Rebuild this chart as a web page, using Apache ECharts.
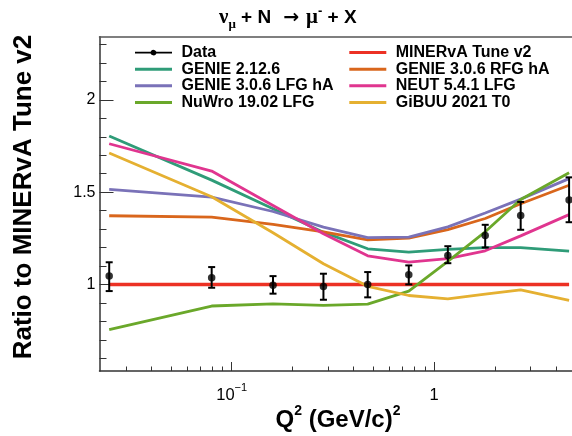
<!DOCTYPE html>
<html><head><meta charset="utf-8">
<script src="https://cdn.jsdelivr.net/npm/echarts@6/dist/echarts.min.js"></script>
<style>html,body{margin:0;padding:0;background:#fff}#c{width:572px;height:436px}</style>
</head><body><div id="c"></div>
<script>
// ---- data ----
const q2 = [0.0248, 0.0796, 0.160, 0.284, 0.47, 0.75, 1.17, 1.79, 2.68, 4.65];
const dataRatio = [1.045, 1.036, 0.995, 0.989, 1.0, 1.052, 1.157, 1.265, 1.373, 1.458];
const dataLow  = [0.964, 0.982, 0.95, 0.917, 0.93, 1.0, 1.115, 1.20, 1.296, 1.337];
const dataHigh = [1.12, 1.094, 1.045, 1.058, 1.067, 1.103, 1.207, 1.323, 1.447, 1.58];
const minervaTune = [1, 1, 1, 1, 1, 1, 1, 1, 1, 1];
const genie2126   = [1.804, 1.565, 1.41, 1.283, 1.193, 1.175, 1.19, 1.199, 1.199, 1.18];
const genie306RFG = [1.372, 1.365, 1.325, 1.285, 1.242, 1.251, 1.297, 1.357, 1.437, 1.537];
const genie306LFG = [1.515, 1.473, 1.395, 1.31, 1.253, 1.256, 1.312, 1.387, 1.462, 1.573];
const neut541     = [1.762, 1.614, 1.428, 1.275, 1.155, 1.121, 1.14, 1.182, 1.263, 1.378];
const nuwro1902   = [0.755, 0.883, 0.895, 0.887, 0.893, 0.964, 1.125, 1.285, 1.46, 1.605];
const gibuu2021   = [1.712, 1.475, 1.28, 1.112, 0.99, 0.94, 0.922, 0.948, 0.971, 0.913];
const yMajorTicks = [1, 1.5, 2];
const yMinorTicks = [0.6, 0.7, 0.8, 0.9, 1.1, 1.2, 1.3, 1.4, 1.6, 1.7, 1.8, 1.9, 2.1, 2.2, 2.3];
const xMajorTicks = [0.1, 1];
const xMinorTicks = [0.03, 0.04, 0.05, 0.06, 0.07, 0.08, 0.09, 0.2, 0.3, 0.4, 0.5, 0.6, 0.7, 0.8, 0.9, 2, 3, 4];
const xMin = 0.02221, xMax = 5.03, yMin = 0.531, yMax = 2.342;

const FONT = 'Liberation Sans';
const models = [
  {name: 'MINERvA Tune v2', values: minervaTune, color: '#ec3124', width: 3.4},
  {name: 'GENIE 2.12.6', values: genie2126, color: '#2f9c78', width: 2.8},
  {name: 'GENIE 3.0.6 RFG hA', values: genie306RFG, color: '#d9661c', width: 2.8},
  {name: 'GENIE 3.0.6 LFG hA', values: genie306LFG, color: '#7a72b8', width: 2.8},
  {name: 'NEUT 5.4.1 LFG', values: neut541, color: '#e0358f', width: 2.8},
  {name: 'NuWro 19.02 LFG', values: nuwro1902, color: '#6aa82a', width: 2.8},
  {name: 'GiBUU 2021 T0', values: gibuu2021, color: '#e5b031', width: 2.8}
];

const chart = echarts.init(document.getElementById('c'), null, {renderer: 'canvas'});
const axisColor = '#333';
const legendText = {fontFamily: FONT, fontWeight: 'bold', fontSize: 16, color: '#000', lineHeight: 16.6};

const series = models.map(m => ({
  type: 'line', name: m.name, xAxisIndex: 0, yAxisIndex: 0,
  data: q2.map((x, i) => [x, m.values[i]]),
  symbol: 'none', showSymbol: false, smooth: false,
  lineStyle: {color: m.color, width: m.width}, itemStyle: {color: m.color},
  emphasis: {disabled: true}, animation: false, z: 2
}));
series.push({
  type: 'custom', name: 'Data', xAxisIndex: 0, yAxisIndex: 0,
  data: q2.map((x, i) => [x, dataLow[i], dataHigh[i]]),
  encode: {x: 0, y: [1, 2]},
  renderItem: function (params, api) {
    const x = api.value(0);
    const p1 = api.coord([x, api.value(1)]);
    const p2 = api.coord([x, api.value(2)]);
    const w = 3.5, st = {stroke: '#000', lineWidth: 2};
    return {type: 'group', children: [
      {type: 'line', shape: {x1: p1[0], y1: p1[1], x2: p2[0], y2: p2[1]}, style: st},
      {type: 'line', shape: {x1: p1[0] - w, y1: p1[1], x2: p1[0] + w, y2: p1[1]}, style: st},
      {type: 'line', shape: {x1: p2[0] - w, y1: p2[1], x2: p2[0] + w, y2: p2[1]}, style: st}
    ]};
  },
  itemStyle: {color: '#000'}, animation: false, z: 5
});
series.push({
  type: 'scatter', name: 'Data', xAxisIndex: 0, yAxisIndex: 0,
  data: q2.map((x, i) => [x, dataRatio[i]]),
  symbol: 'circle', symbolSize: 7.5, itemStyle: {color: '#000'},
  emphasis: {disabled: true}, animation: false, z: 6
});

const dataIcon = 'path://M0,3.2 L15.6,3.2 A3.2,3.2 0 0,1 21.4,3.2 L37,3.2 L37,4.8 L21.4,4.8 A3.2,3.2 0 0,1 15.6,4.8 L0,4.8 Z';

const option = {
  backgroundColor: '#fff',
  animation: false,
  title: {
    text: '{g|ν}{gs|μ}{b| + N}{r|→}{g|μ}{sup|-}{b| + X}',
    left: 219, top: 5, padding: 0,
    textStyle: {
      rich: {
        g: {fontFamily: 'Liberation Serif', fontSize: 21, color: '#000', lineHeight: 26, verticalAlign: 'middle'},
        gs: {fontFamily: 'Liberation Serif', fontSize: 13, color: '#000', lineHeight: 13, verticalAlign: 'bottom'},
        sup: {fontFamily: FONT, fontSize: 13, fontWeight: 'bold', color: '#000', lineHeight: 13, verticalAlign: 'top'},
        b: {fontFamily: FONT, fontSize: 19, fontWeight: 'bold', color: '#000', lineHeight: 26, verticalAlign: 'middle'},
        r: {fontFamily: 'DejaVu Sans', fontSize: 19, color: '#000', lineHeight: 26, verticalAlign: 'middle', padding: [0, 7, 0, 12]}
      }
    }
  },
  legend: [
    {data: [{name: 'Data', icon: dataIcon}], left: 135, top: 44.3, orient: 'vertical', padding: 0,
     itemWidth: 37, itemHeight: 8, itemGap: 0, textStyle: legendText, formatter: n => ' ' + n,
     selectedMode: false, itemStyle: {color: '#000'}},
    {data: ['GENIE 2.12.6', 'GENIE 3.0.6 LFG hA', 'NuWro 19.02 LFG'].map(n => ({name: n, icon: 'rect'})),
     left: 135, top: 60.9, orient: 'vertical', padding: 0,
     itemWidth: 37, itemHeight: 3, itemGap: 0, textStyle: legendText, formatter: n => ' ' + n, selectedMode: false},
    {data: ['MINERvA Tune v2', 'GENIE 3.0.6 RFG hA', 'NEUT 5.4.1 LFG', 'GiBUU 2021 T0'].map(n => ({name: n, icon: 'rect'})),
     left: 349.3, top: 44.3, orient: 'vertical', padding: 0,
     itemWidth: 37, itemHeight: 3, itemGap: 0, textStyle: legendText, formatter: n => ' ' + n, selectedMode: false}
  ],
  grid: {left: 99.5, right: -4, top: 36.7, bottom: 65, containLabel: false, outerBoundsMode: 'none'},
  xAxis: [
    {type: 'log', logBase: 10, min: xMin, max: xMax, position: 'bottom',
     axisLine: {show: true, onZero: false, lineStyle: {color: axisColor, width: 1.5}},
     axisTick: {show: true, inside: true, length: 9, customValues: xMajorTicks, lineStyle: {color: axisColor, width: 1}},
     axisLabel: {show: true, customValues: xMajorTicks, margin: 11,
       formatter: v => (v < 0.5 ? '{n|10}{s|−1}' : '{n|1}'),
       rich: {
         n: {fontFamily: FONT, fontSize: 16.5, color: '#000', lineHeight: 22, verticalAlign: 'bottom'},
         s: {fontFamily: FONT, fontSize: 11, color: '#000', lineHeight: 13, verticalAlign: 'top'}
       }},
     splitLine: {show: false}, minorTick: {show: false}},
    {type: 'log', logBase: 10, min: xMin, max: xMax, position: 'bottom',
     axisLine: {show: false, onZero: false},
     axisTick: {show: true, inside: true, length: 4.5, customValues: xMinorTicks, lineStyle: {color: axisColor, width: 1}},
     axisLabel: {show: false}, splitLine: {show: false}},
    {type: 'log', logBase: 10, min: xMin, max: xMax, position: 'top',
     axisLine: {show: true, onZero: false, lineStyle: {color: '#555', width: 1.5}},
     axisTick: {show: false}, axisLabel: {show: false}, splitLine: {show: false}}
  ],
  yAxis: [
    {type: 'value', min: yMin, max: yMax, position: 'left',
     axisLine: {show: true, onZero: false, lineStyle: {color: axisColor, width: 1.5}},
     axisTick: {show: true, inside: true, length: 14, customValues: yMajorTicks, lineStyle: {color: axisColor, width: 1}},
     axisLabel: {show: true, customValues: yMajorTicks, margin: 4, fontFamily: FONT, fontSize: 16, color: '#000',
       formatter: v => String(v)},
     splitLine: {show: false}},
    {type: 'value', min: yMin, max: yMax, position: 'left',
     axisLine: {show: false, onZero: false},
     axisTick: {show: true, inside: true, length: 7, customValues: yMinorTicks, lineStyle: {color: axisColor, width: 1}},
     axisLabel: {show: false}, splitLine: {show: false}}
  ],
  graphic: [
    {type: 'text', x: 24, y: 197, rotation: Math.PI / 2,
     style: {text: 'Ratio to MINERvA Tune v2', fontFamily: FONT, fontWeight: 'bold', fontSize: 26,
             fill: '#000', align: 'center', verticalAlign: 'middle'}},
    {type: 'text', x: 338, y: 418,
     style: {text: '{q|Q}{s|2}{q| (GeV/c)}{s|2}', align: 'center', verticalAlign: 'middle',
       rich: {
         q: {fontFamily: FONT, fontWeight: 'bold', fontSize: 24, fill: '#000', lineHeight: 28, verticalAlign: 'bottom'},
         s: {fontFamily: FONT, fontWeight: 'bold', fontSize: 14, fill: '#000', lineHeight: 16, verticalAlign: 'top'}
       }}}
  ],
  series: series
};
chart.setOption(option);
</script>
</body></html>
